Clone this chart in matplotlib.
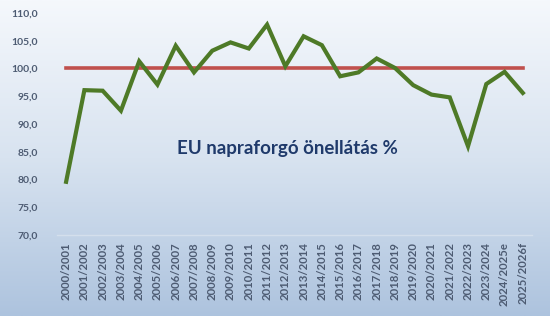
import numpy as np
import matplotlib
matplotlib.use('Agg')
import matplotlib.pyplot as plt
from matplotlib.colors import LinearSegmentedColormap

# Data
seasons = ['2000/2001', '2001/2002', '2002/2003', '2003/2004', '2004/2005',
           '2005/2006', '2006/2007', '2007/2008', '2008/2009', '2009/2010',
           '2010/2011', '2011/2012', '2012/2013', '2013/2014', '2014/2015',
           '2015/2016', '2016/2017', '2017/2018', '2018/2019', '2019/2020',
           '2020/2021', '2021/2022', '2022/2023', '2023/2024', '2024/2025e',
           '2025/2026f']
self_suff = [79.6, 96.1, 96.0, 92.4, 101.3, 97.1, 104.1, 99.3, 103.2, 104.7,
             103.6, 107.9, 100.4, 105.8, 104.2, 98.6, 99.3, 101.8, 100.1, 97.0,
             95.3, 94.8, 86.0, 97.2, 99.4, 95.6]
ref_level = 100.0
yticks = np.arange(70, 111, 5)

TITLE = 'EU napraforgó önellátás %'
LABEL_COLOR = '#4d5b72'

fig = plt.figure(figsize=(5.5, 3.16), dpi=100)

# gradient background over the whole figure
bg = fig.add_axes([0, 0, 1, 1], zorder=0)
cmap = LinearSegmentedColormap.from_list('bg', ['#f5f8fc', '#d8e3f0', '#adc3de'])
grad = np.linspace(0, 1, 256).reshape(-1, 1)
bg.imshow(grad, aspect='auto', cmap=cmap, extent=[0, 1, 0, 1], origin='upper')
bg.set_axis_off()

ax = fig.add_axes([0.1036, 0.256, 0.8636, 0.703], zorder=1)
ax.patch.set_alpha(0)
x = np.arange(len(seasons))
ax.plot(x, self_suff, color='#4e7a27', lw=3.0, solid_joinstyle='miter', zorder=3)
ax.plot([x[0], x[-1]], [ref_level, ref_level], color='#c0504d', lw=2.6, zorder=2)

ax.set_xlim(-0.5, len(seasons) - 0.5)
ax.set_ylim(70, 110)
ax.set_yticks(yticks)
ax.yaxis.set_major_formatter(matplotlib.ticker.FuncFormatter(lambda v, p: ('%.1f' % v).replace('.', ',')))
ax.set_xticks(x)
ax.set_xticklabels(seasons, rotation=90)

for s in ['top', 'right', 'left']:
    ax.spines[s].set_visible(False)
ax.spines['bottom'].set_color('#d4dfec')
ax.spines['bottom'].set_linewidth(1.0)
ax.tick_params(axis='both', length=0, colors=LABEL_COLOR, labelsize=7.5)
ax.tick_params(axis='x', labelsize=8.2, pad=5)
ax.tick_params(axis='y', pad=14)
for lab in ax.get_yticklabels() + ax.get_xticklabels():
    lab.set_fontweight('bold')
    lab.set_family('Lato')

ax.text(0.485, 0.39, TITLE, transform=ax.transAxes, ha='center', va='center',
        fontsize=13.5, fontweight='bold', color='#1f3a6b', family='Lato')

plt.savefig('out.png', dpi=100)
